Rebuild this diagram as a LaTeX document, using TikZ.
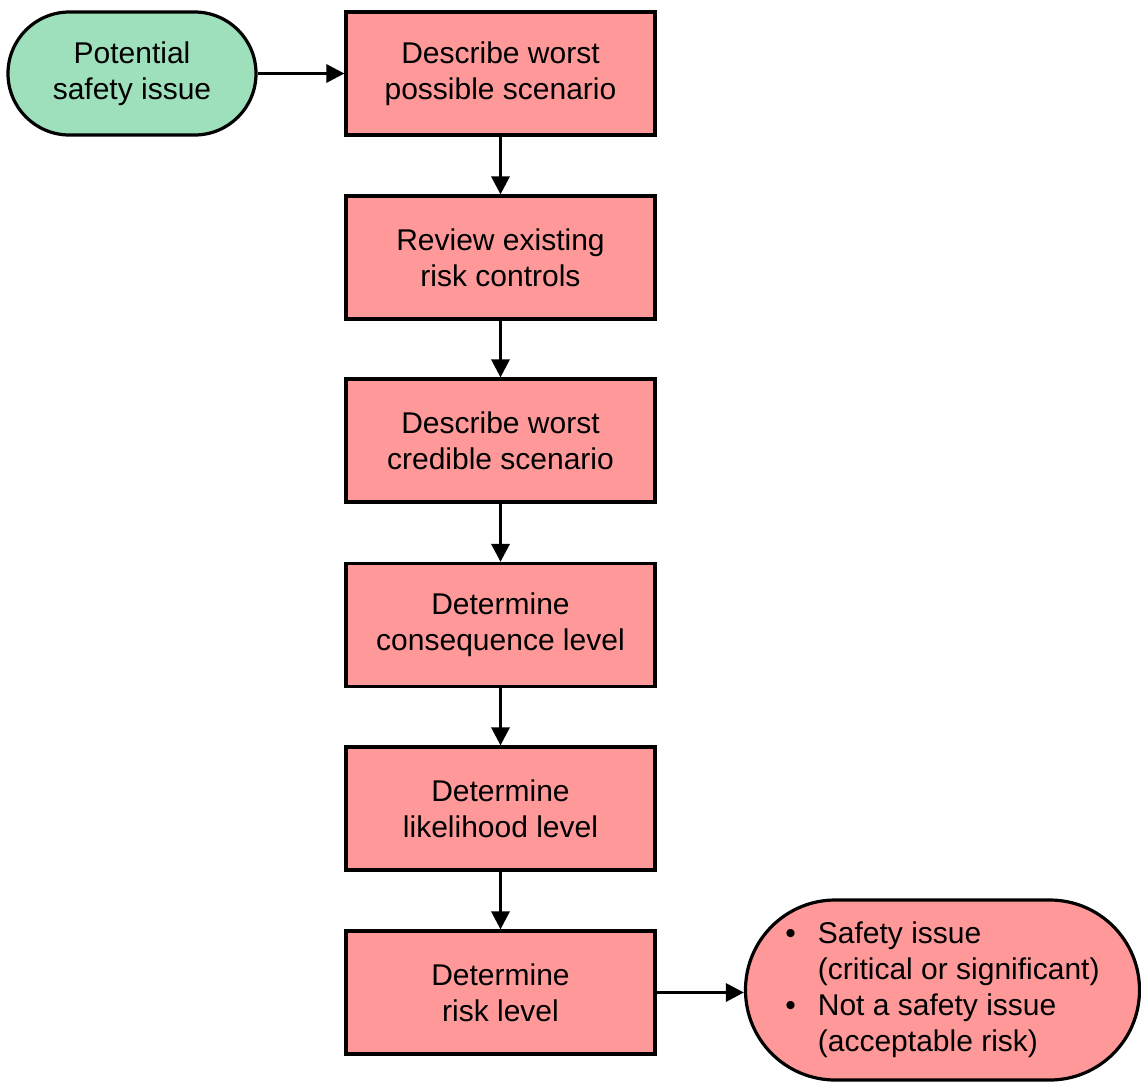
\documentclass[tikz,border=0pt]{standalone}
\usepackage{fontspec}
\setmainfont{Liberation Sans}
\usetikzlibrary{arrows.meta,positioning}
\definecolor{stepfill}{RGB}{255,153,153}
\definecolor{startfill}{RGB}{158,224,188}
\begin{document}
\begin{tikzpicture}[x=0.5pt,y=-0.5pt,
  every node/.style={font=\fontsize{15}{18}\selectfont, align=center, inner sep=0pt},
  stepbox/.style={draw=black, line width=1.6pt, fill=stepfill,
    minimum width=154.5pt, minimum height=61.5pt},
  startpill/.style={draw=black, line width=1.6pt, fill=startfill,
    minimum width=124pt, minimum height=61.5pt, rounded corners=30.7pt},
  endpill/.style={draw=black, line width=1.6pt, fill=stepfill,
    minimum width=197pt, minimum height=90pt, rounded corners=44.9pt},
  flow/.style={line width=1.6pt, -{Triangle[length=9pt,width=9pt]}}]
\useasboundingbox (0,0) rectangle (1141,1082);

% start terminal
\node[startpill] (start) at (132,73.5) {Potential\\safety issue};

% process steps
\node[stepbox] (s1) at (500.5,73.5)  {Describe worst\\possible scenario};
\node[stepbox] (s2) at (500.5,257.5) {Review existing\\risk controls};
\node[stepbox] (s3) at (500.5,440.5) {Describe worst\\credible scenario};
\node[stepbox] (s4) at (500.5,625)   {Determine\\consequence level};
\node[stepbox] (s5) at (500.5,808.5) {Determine\\likelihood level};
\node[stepbox] (s6) at (500.5,992.5) {Determine\\risk level};

% outcome terminal
\node[endpill] (out) at (942.5,990) {%
  \begin{tabular}{@{}l@{\hspace{11pt}}l@{}}
  \textbullet & Safety issue\\
              & (critical or significant)\\
  \textbullet & Not a safety issue\\
              & (acceptable risk)
  \end{tabular}};

% connectors
\draw[flow] (start) -- (s1);
\draw[flow] (s1) -- (s2);
\draw[flow] (s2) -- (s3);
\draw[flow] (s3) -- (s4);
\draw[flow] (s4) -- (s5);
\draw[flow] (s5) -- (s6);
\draw[flow] (s6.east) -- (s6.east -| out.west);
\end{tikzpicture}
\end{document}
